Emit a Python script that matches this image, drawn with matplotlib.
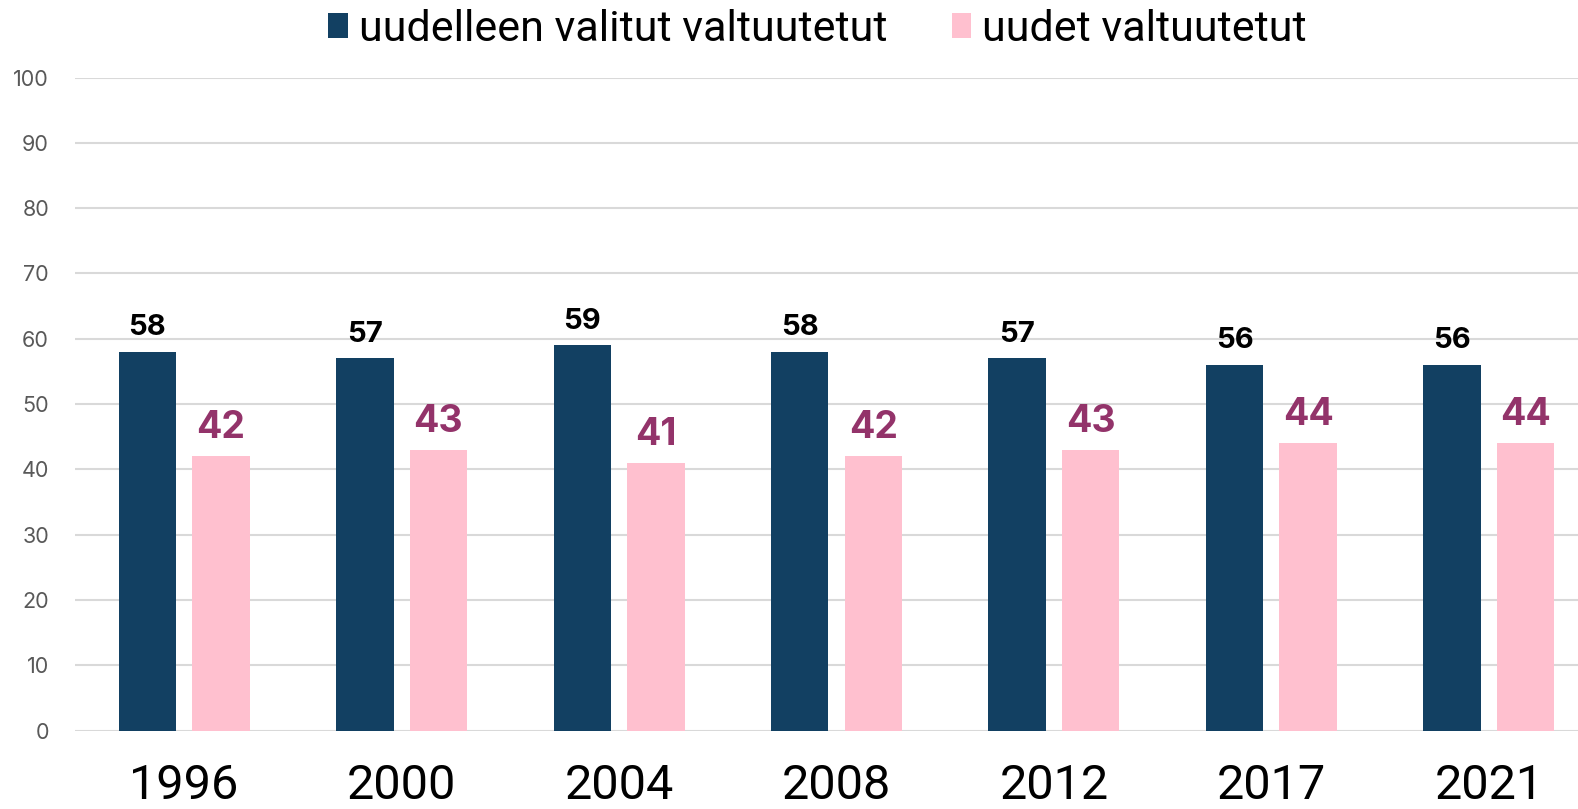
import numpy as np
import matplotlib
matplotlib.use("Agg")
import matplotlib.pyplot as plt

plt.rcParams['font.family'] = ['Roboto', 'DejaVu Sans']

# data
years = ["1996", "2000", "2004", "2008", "2012", "2017", "2021"]
reelected = [58, 57, 59, 58, 57, 56, 56]
new_members = [42, 43, 41, 42, 43, 44, 44]
series_names = ["uudelleen valitut valtuutetut", "uudet valtuutetut"]
yticks = [0, 10, 20, 30, 40, 50, 60, 70, 80, 90, 100]

dark = "#124062"
pink = "#FFC0CF"
purple = "#93336A"

fig = plt.figure(figsize=(15.78, 8.09), dpi=100)
ax = fig.add_axes([0.0478, 0.0969, 0.9522, 0.8073])

x = np.arange(len(years))
w = 0.264
off = 0.169
b1 = ax.bar(x - off, reelected, w, color=dark, label=series_names[0], zorder=3)
b2 = ax.bar(x + off, new_members, w, color=pink, label=series_names[1], zorder=3)

for xi, v in zip(x, reelected):
    ax.annotate(str(v), (xi - off, v), xytext=(0, 12), textcoords="offset points",
                ha="center", va="baseline", fontsize=21, fontweight="bold",
                color="black", family=["Inter", "DejaVu Sans"])
for xi, v in zip(x, new_members):
    ax.annotate(str(v), (xi + off, v), xytext=(0, 13), textcoords="offset points",
                ha="center", va="baseline", fontsize=27, fontweight="bold",
                color=purple, family=["Inter", "DejaVu Sans"])

ax.set_ylim(0, 100)
ax.set_xlim(-0.5, 6.41)
ax.set_yticks(yticks)
ax.set_xticks(x)
ax.set_xticklabels(years, fontsize=35, color="black")
ax.tick_params(axis="x", length=0, pad=23)
ax.tick_params(axis="y", length=0, pad=19, labelsize=15.5, labelcolor="#595959")
for t in ax.get_yticklabels():
    t.set_family(["Inter", "DejaVu Sans"])
ax.grid(axis="y", color="#d9d9d9", linewidth=1.5, zorder=0)
for s in ax.spines.values():
    s.set_visible(False)

fig.legend(handles=[b1, b2], labels=series_names, loc="upper center",
           bbox_to_anchor=(0.518, 1.037), ncol=2, frameon=False, fontsize=31,
           handlelength=0.45, handleheight=0.5, handletextpad=0.25, columnspacing=1.5)

fig.savefig("out.png", dpi=100)
